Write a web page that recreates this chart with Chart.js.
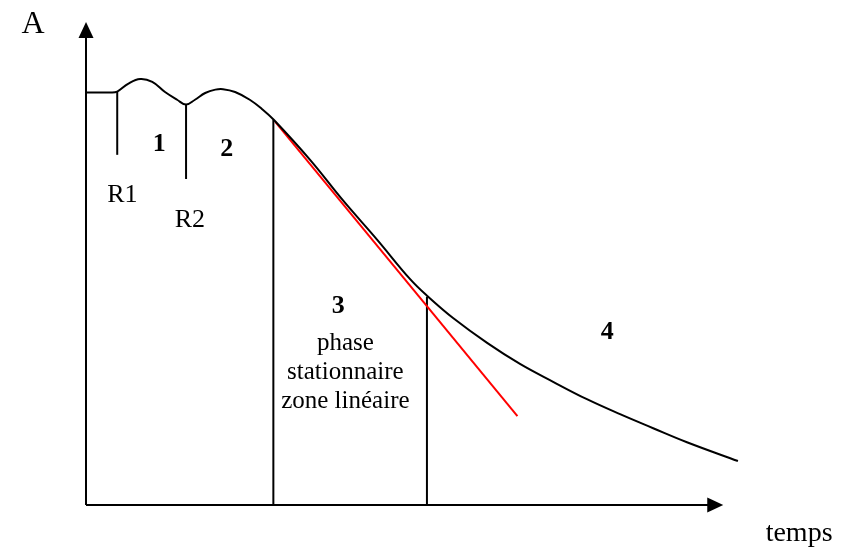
<!DOCTYPE html>
<html lang="fr">
<head>
<meta charset="utf-8">
<title>Absorbance en fonction du temps</title>
<script src="https://cdn.jsdelivr.net/npm/chart.js@4.4.1/dist/chart.umd.min.js"></script>
<style>
    html, body { margin: 0; padding: 0; background: #ffffff; }
    #wrap { width: 854px; height: 550px; }
</style>
</head>
<body>
<div id="wrap"><canvas id="courbe" width="854" height="550"></canvas></div>
<script>
// Courbe A = f(temps) (unités arbitraires)
const tempsCourbe = [0, 2.2, 3.8, 4.9, 6.6, 8.5, 10.4, 12.4, 14.3, 15.7, 17.1, 18.7, 20.3, 21.5,
    23.4, 25.7, 27.6, 29.5, 35.2, 40.3, 45.7, 50.9, 53.7, 57.6, 63.0, 68.1, 73.3, 78.6, 83.8, 89.0, 94.3, 102.3];
const absCourbe = [85.4, 85.4, 85.4, 85.6, 87.2, 88.2, 87.6, 85.5, 83.9, 82.9, 83.9, 85.3, 86.0, 86.1,
    85.5, 83.9, 82.0, 79.7, 71.4, 63.1, 54.9, 46.7, 43.1, 38.7, 33.5, 29.2, 25.5, 21.9, 18.8, 15.9, 13.0, 9.1];

// Tangente (zone linéaire)
const tempsTangente = [29.7, 67.7];
const absTangente = [79.3, 18.4];

// Repères verticaux : R1, R2, début et fin de la zone 3
const tempsReperes = [4.9, 15.7, 29.4, 53.5];
const basReperes = [72.5, 67.5, 0, 0];
const hautReperes = [85.6, 82.9, 79.7, 43.1];

// Étendue des axes (flèches)
const tempsMax = 100;
const absMax = 100;

document.addEventListener('DOMContentLoaded', function() {
    const toPoints = (xs, ys) => xs.map((x, i) => ({ x: x, y: ys[i] }));

    const datasets = [
        {
            label: 'A',
            data: toPoints(tempsCourbe, absCourbe),
            borderColor: '#000000',
            borderWidth: 2,
            tension: 0.4
        },
        {
            label: 'tangente',
            data: toPoints(tempsTangente, absTangente),
            borderColor: '#ff0000',
            borderWidth: 2
        }
    ];
    tempsReperes.forEach(function(t, i) {
        datasets.push({
            label: 'repère ' + (i + 1),
            data: [{ x: t, y: basReperes[i] }, { x: t, y: hautReperes[i] }],
            borderColor: '#000000',
            borderWidth: 2
        });
    });

    // Textes de la figure, placés en coordonnées des données
    const textes = [
        { t: 'A', x: -8.3, y: 97.7, font: '32px "Liberation Serif"' },
        { t: 'temps', x: 111.9, y: -7.5, font: '28px "Liberation Serif"' },
        { t: '1', x: 11.5, y: 73.3, font: 'bold 26px "Liberation Serif"' },
        { t: '2', x: 22.1, y: 72.3, font: 'bold 26px "Liberation Serif"' },
        { t: 'R1', x: 5.7, y: 62.8, font: '26px "Liberation Serif"' },
        { t: 'R2', x: 16.3, y: 57.6, font: '26px "Liberation Serif"' },
        { t: '3', x: 39.6, y: 39.8, font: 'bold 26px "Liberation Serif"' },
        { t: 'phase', x: 40.7, y: 32.1, font: '25px "Liberation Serif"' },
        { t: 'stationnaire', x: 40.7, y: 26.1, font: '25px "Liberation Serif"' },
        { t: 'zone linéaire', x: 40.7, y: 20.1, font: '25px "Liberation Serif"' },
        { t: '4', x: 81.8, y: 34.4, font: 'bold 26px "Liberation Serif"' }
    ];

    // Axes fléchés et textes
    const axesFleches = {
        id: 'axesFleches',
        beforeDatasetsDraw(chart) {
            const ctx = chart.ctx;
            const sx = chart.scales.x;
            const sy = chart.scales.y;
            const x0 = sx.getPixelForValue(0);
            const y0 = sy.getPixelForValue(0);
            const xEnd = sx.getPixelForValue(tempsMax);
            const yEnd = sy.getPixelForValue(absMax);
            ctx.save();
            ctx.strokeStyle = '#000000';
            ctx.fillStyle = '#000000';
            ctx.lineWidth = 2;
            ctx.beginPath();
            ctx.moveTo(x0, y0);
            ctx.lineTo(xEnd - 10, y0);
            ctx.moveTo(x0, y0);
            ctx.lineTo(x0, yEnd + 10);
            ctx.stroke();
            // pointes de flèche
            ctx.beginPath();
            ctx.moveTo(xEnd, y0);
            ctx.lineTo(xEnd - 16, y0 - 7.5);
            ctx.lineTo(xEnd - 16, y0 + 7.5);
            ctx.closePath();
            ctx.fill();
            ctx.beginPath();
            ctx.moveTo(x0, yEnd);
            ctx.lineTo(x0 - 7.5, yEnd + 16);
            ctx.lineTo(x0 + 7.5, yEnd + 16);
            ctx.closePath();
            ctx.fill();
            ctx.restore();
        },
        afterDraw(chart) {
            const ctx = chart.ctx;
            const sx = chart.scales.x;
            const sy = chart.scales.y;
            ctx.save();
            ctx.fillStyle = '#000000';
            ctx.textAlign = 'center';
            ctx.textBaseline = 'alphabetic';
            textes.forEach(function(item) {
                ctx.font = item.font;
                ctx.fillText(item.t, sx.getPixelForValue(item.x), sy.getPixelForValue(item.y));
            });
            ctx.restore();
        }
    };

    new Chart(document.getElementById('courbe').getContext('2d'), {
        type: 'line',
        data: { datasets: datasets },
        options: {
            responsive: false,
            animation: false,
            layout: {
                padding: { left: 86, right: 67, top: 22, bottom: 45 }
            },
            scales: {
                x: { type: 'linear', min: 0, max: 110, display: false },
                y: { type: 'linear', min: 0, max: absMax, display: false }
            },
            elements: {
                point: { radius: 0, hoverRadius: 0 },
                line: { tension: 0, fill: false }
            },
            datasets: {
                line: { clip: false }
            },
            plugins: {
                legend: { display: false },
                tooltip: { enabled: false },
                title: { display: false }
            }
        },
        plugins: [axesFleches]
    });
});
</script>
</body>
</html>
